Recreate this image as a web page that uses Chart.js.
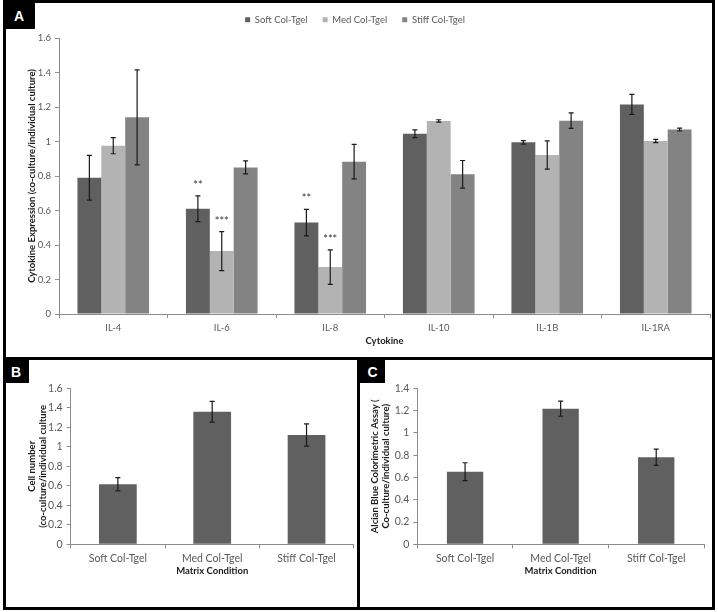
<!DOCTYPE html>
<html>
<head>
<meta charset="utf-8">
<script src="https://cdn.jsdelivr.net/npm/chart.js@4.4.1/dist/chart.umd.min.js"></script>
<style>
  body { margin: 0; background: #fff; }
  #page { position: relative; width: 718px; height: 612px; overflow: hidden; background: #fff; }
  canvas { position: absolute; }
  .line { position: absolute; background: #000; }
  .tag { position: absolute; background: #000; color: #fff; font: bold 14px "Liberation Sans", Arial, sans-serif;
         display: flex; align-items: center; justify-content: center; }
</style>
</head>
<body>
<div id="page">
  <canvas id="chartA" style="left:0;top:0" width="718" height="357"></canvas>
  <canvas id="chartB" style="left:0;top:360px" width="357" height="247"></canvas>
  <canvas id="chartC" style="left:360px;top:360px" width="352" height="247"></canvas>

  <!-- panel borders -->
  <div class="line" style="left:3px;top:0;width:712px;height:3px"></div>
  <div class="line" style="left:3px;top:607px;width:712px;height:3px"></div>
  <div class="line" style="left:3px;top:0;width:3px;height:610px"></div>
  <div class="line" style="left:712px;top:0;width:3px;height:610px"></div>
  <div class="line" style="left:3px;top:357px;width:712px;height:3px"></div>
  <div class="line" style="left:357px;top:357px;width:3px;height:253px"></div>

  <div class="tag" style="left:3px;top:3px;width:32px;height:26px">A</div>
  <div class="tag" style="left:3px;top:360px;width:26px;height:23px">B</div>
  <div class="tag" style="left:360px;top:360px;width:25px;height:23px">C</div>
</div>

<script>
/* DATA */
const cytokines = ["IL-4", "IL-6", "IL-8", "IL-10", "IL-1B", "IL-1RA"]
const softVals  = [0.79, 0.61, 0.53, 1.045, 0.995, 1.215]
const softErr   = [0.13, 0.075, 0.077, 0.022, 0.01, 0.058]
const medVals   = [0.976, 0.365, 0.272, 1.119, 0.922, 1.003]
const medErr    = [0.047, 0.113, 0.1, 0.007, 0.082, 0.009]
const stiffVals = [1.14, 0.85, 0.883, 0.81, 1.121, 1.069]
const stiffErr  = [0.275, 0.038, 0.1, 0.08, 0.045, 0.008]
const softStars = ["", "**", "**", "", "", ""]
const medStars  = ["", "***", "***", "", "", ""]

const conditions = ["Soft Col-Tgel", "Med Col-Tgel", "Stiff Col-Tgel"]
const cellVals   = [0.615, 1.36, 1.121]
const cellErr    = [0.068, 0.106, 0.115]
const alcianVals = [0.652, 1.217, 0.781]
const alcianErr  = [0.08, 0.068, 0.073]

/* STYLE */
const FONT = "Lato"
const tickGrey = "#595959"
const axisGrey = "#8c8c8c"
const darkBar = "#606060"
const lightBar = "#b3b3b3"
const midBar = "#838383"

Chart.defaults.font.family = FONT
Chart.defaults.font.size = 9.5
Chart.defaults.color = tickGrey
Chart.defaults.animation = false

/* error bars + significance stars */
const errorBars = {
  id: "errorBars",
  afterDatasetsDraw(chart) {
    const ctx = chart.ctx
    const y = chart.scales.y
    chart.data.datasets.forEach((ds, i) => {
      const meta = chart.getDatasetMeta(i)
      meta.data.forEach((bar, j) => {
        const v = ds.data[j], e = ds.errors[j]
        const top = y.getPixelForValue(v + e)
        const bot = y.getPixelForValue(v - e)
        ctx.save()
        ctx.strokeStyle = "#1a1a1a"
        ctx.lineWidth = 1.2
        ctx.beginPath()
        ctx.moveTo(bar.x, top); ctx.lineTo(bar.x, bot)
        ctx.moveTo(bar.x - 2.5, top); ctx.lineTo(bar.x + 2.5, top)
        ctx.moveTo(bar.x - 2.5, bot); ctx.lineTo(bar.x + 2.5, bot)
        ctx.stroke()
        if (ds.stars && ds.stars[j]) {
          ctx.fillStyle = "#333"
          ctx.font = "11px " + FONT
          ctx.textAlign = "center"
          ctx.textBaseline = "alphabetic"
          ctx.fillText(ds.stars[j], bar.x, top - 7)
        }
        ctx.restore()
      })
    })
  }
}

function yAxis(max, width, title, titlePad, size) {
  return {
    min: 0, max: max,
    ticks: { stepSize: 0.2, padding: 4, color: tickGrey, font: { size: size },
             callback: (v) => String(Number(v.toFixed(1))) },
    grid: { drawOnChartArea: false, tickLength: 4, color: axisGrey },
    border: { color: axisGrey },
    title: { display: true, text: title, color: "#1a1a1a", font: { weight: "bold", size: 9.5 }, padding: { top: titlePad, bottom: 0 } },
    afterFit(scale) { scale.width = width }
  }
}

function xAxis(height, title, titlePad, size) {
  return {
    ticks: { padding: 4, color: tickGrey, font: { size: size } },
    grid: { drawOnChartArea: false, tickLength: 4, color: axisGrey },
    border: { color: axisGrey },
    title: { display: true, text: title, color: "#1a1a1a", font: { weight: "bold", size: 9.5 }, padding: { top: 0, bottom: titlePad } },
    afterFit(scale) { scale.height = height }
  }
}

/* PANEL A */
const legendHeight = {
  id: "legendHeight",
  beforeInit(chart) {
    const fit = chart.legend.fit
    chart.legend.fit = function () {
      fit.bind(chart.legend)()
      this.height = 38
    }
  }
}

new Chart(document.querySelector("#chartA"), {
  type: "bar",
  data: {
    labels: cytokines,
    datasets: [
      { label: "Soft Col-Tgel", data: softVals, errors: softErr, stars: softStars, backgroundColor: darkBar },
      { label: "Med Col-Tgel", data: medVals, errors: medErr, stars: medStars, backgroundColor: lightBar },
      { label: "Stiff Col-Tgel", data: stiffVals, errors: stiffErr, backgroundColor: midBar }
    ]
  },
  options: {
    responsive: false,
    layout: { padding: { left: 0, right: 8, top: 0, bottom: 0 } },
    categoryPercentage: 0.66,
    barPercentage: 1,
    plugins: {
      legend: { position: "top", labels: { boxWidth: 5, boxHeight: 5, padding: 15, color: tickGrey } },
      tooltip: { enabled: false }
    },
    scales: {
      x: xAxis(43, "Cytokine", 10.6, 9.5),
      y: yAxis(1.6, 59, "Cytokine Expression (co-culture/individual culture)", 26.3, 9.5)
    }
  },
  plugins: [errorBars, legendHeight]
})

/* PANEL B */
new Chart(document.querySelector("#chartB"), {
  type: "bar",
  data: {
    labels: conditions,
    datasets: [{ label: "Cell number", data: cellVals, errors: cellErr, backgroundColor: darkBar }]
  },
  options: {
    responsive: false,
    layout: { padding: { left: 0, right: 3.3, top: 28.3, bottom: 22.7 } },
    categoryPercentage: 0.4,
    barPercentage: 1,
    plugins: { legend: { display: false }, tooltip: { enabled: false } },
    scales: {
      x: xAxis(40, "Matrix Condition", 7.2, 10.5),
      y: yAxis(1.6, 70.7, ["Cell number", "(co-culture/individual culture"], 26, 10.5)
    }
  },
  plugins: [errorBars]
})

/* PANEL C */
new Chart(document.querySelector("#chartC"), {
  type: "bar",
  data: {
    labels: conditions,
    datasets: [{ label: "Alcian Blue", data: alcianVals, errors: alcianErr, backgroundColor: darkBar }]
  },
  options: {
    responsive: false,
    layout: { padding: { left: 0, right: 8, top: 28.3, bottom: 22.7 } },
    categoryPercentage: 0.38,
    barPercentage: 1,
    plugins: { legend: { display: false }, tooltip: { enabled: false } },
    scales: {
      x: xAxis(40, "Matrix Condition", 7.2, 10.5),
      y: yAxis(1.4, 57.3, ["Alcian Blue Colorimetric Assay (", "Co-culture/individual culture)"], 9, 10.5)
    }
  },
  plugins: [errorBars]
})
</script>
</body>
</html>
